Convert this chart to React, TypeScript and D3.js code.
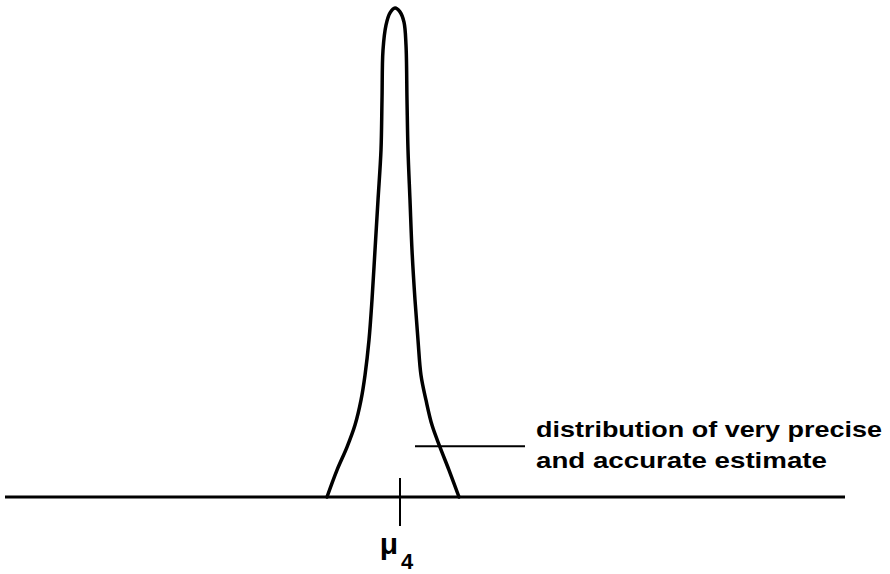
import React from "react";
import * as d3 from "d3";

// Curve: x in units (1 unit = spread step), y = relative density (0..100)
const curveX = [-7.3, -6.3, -5.3, -4.5, -3.9, -3.5, -3.1, -2.8, -2.5, -2.2, -1.9, -1.8, -1.7, -1.4, -1.0, -0.5, 0, 0.4, 0.6, 0.7, 0.8, 1.0, 1.2, 1.5, 1.8, 2.1, 2.6, 3.2, 4.0, 4.9, 5.9];
const curveY = [0, 5.5, 10.2, 14.7, 19.8, 24.9, 32.1, 40.3, 50.5, 60.7, 71.0, 81.2, 91.4, 96.5, 99.0, 100, 99.2, 97.1, 92.4, 81.2, 71.0, 60.7, 50.5, 40.3, 32.1, 24.9, 19.8, 14.7, 10.2, 5.5, 0];

const axisExtent = [-39.5, 44.5];
const meanValue = [0];
const meanLabel = ["μ", "4"];
const annotationLines = ["distribution of very precise", "and accurate estimate"];
const annotationAnchor = [1.5, 10.4];

const W = 890;
const H = 574;

export default function App() {
  const x = d3.scaleLinear().domain(axisExtent).range([5, 845]);
  const y = d3.scaleLinear().domain([0, 100]).range([497, 8]);

  const pts: [number, number][] = curveX.map((v, i) => [v, curveY[i]]);
  const line = d3
    .line<[number, number]>()
    .x((d) => x(d[0]))
    .y((d) => y(d[1]))
    .curve(d3.curveCatmullRom.alpha(0.5));

  const mx = x(meanValue[0]);
  const font = "'Liberation Sans', Arial, sans-serif";

  return (
    <svg
      width={W}
      height={H}
      viewBox={`0 0 ${W} ${H}`}
      style={{ position: "absolute", left: 0, top: 0, background: "#fff" }}
    >
      <rect width={W} height={H} fill="#fff" />
      <line x1={x(axisExtent[0])} x2={x(axisExtent[1])} y1={y(0)} y2={y(0)} stroke="#000" strokeWidth={3} />
      <line x1={mx} x2={mx} y1={y(0) - 19} y2={y(0) + 29} stroke="#000" strokeWidth={2} />
      <path d={line(pts) || ""} fill="none" stroke="#000" strokeWidth={3.5} strokeLinejoin="round" strokeLinecap="round" />
      <line x1={x(annotationAnchor[0])} x2={525} y1={y(annotationAnchor[1])} y2={y(annotationAnchor[1])} stroke="#000" strokeWidth={2} />
      <text x={536} y={437} fontFamily={font} fontWeight="bold" fontSize={22.5} textLength={346} lengthAdjust="spacingAndGlyphs" fill="#000">
        {annotationLines[0]}
      </text>
      <text x={536} y={468} fontFamily={font} fontWeight="bold" fontSize={22.5} textLength={291} lengthAdjust="spacingAndGlyphs" fill="#000">
        {annotationLines[1]}
      </text>
      <text x={mx - 2} y={554} textAnchor="end" fontFamily={font} fontWeight="bold" fontSize={30} fill="#000">
        {meanLabel[0]}
      </text>
      <text x={mx + 1} y={569} fontFamily={font} fontWeight="bold" fontSize={22} fill="#000">
        {meanLabel[1]}
      </text>
    </svg>
  );
}
